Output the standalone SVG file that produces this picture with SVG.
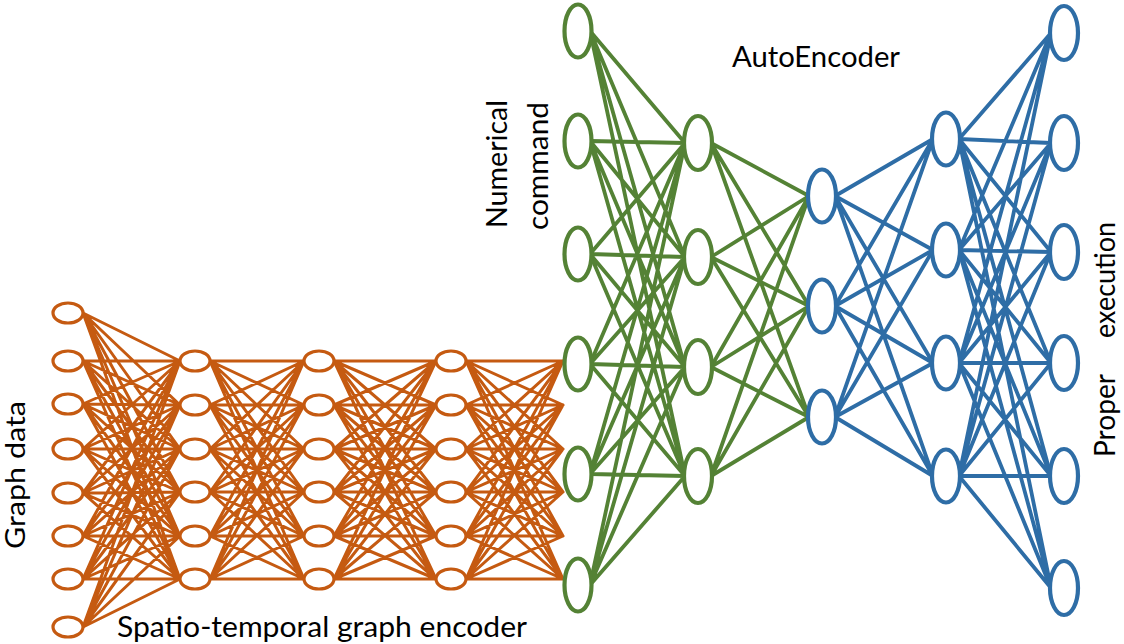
<svg xmlns="http://www.w3.org/2000/svg" width="1124" height="644" viewBox="0 0 1124 644">
<style>
.eo{fill:none;stroke:#C55A11;stroke-width:3;stroke-linecap:round}
.eg{fill:none;stroke:#548235;stroke-width:3.8;stroke-linecap:round}
.eb{fill:none;stroke:#2E6DA6;stroke-width:3.8;stroke-linecap:round}
.no{fill:#fff;stroke:#C55A11;stroke-width:3.2}
.ng{fill:#fff;stroke:#548235;stroke-width:4.2}
.nb{fill:#fff;stroke:#2E6DA6;stroke-width:4.2}
.t{font-family:Lato,"Open Sans","Liberation Sans",sans-serif;font-size:28px;fill:#000}
</style>
<rect width="1124" height="644" fill="#fff"/>
<g id="connectors">
<path class="eo" d="M83 313L180 361M83 313L180 405M83 313L180 449M83 313L180 492M83 313L180 536M83 313L180 579
M83 361L180 361M83 361L180 405M83 361L180 449M83 361L180 492M83 361L180 536M83 361L180 579
M83 404L180 361M83 404L180 405M83 404L180 449M83 404L180 492M83 404L180 536M83 404L180 579
M83 449L180 361M83 449L180 405M83 449L180 449M83 449L180 492M83 449L180 536M83 449L180 579
M83 493L180 361M83 493L180 405M83 493L180 449M83 493L180 492M83 493L180 536M83 493L180 579
M83 536L180 361M83 536L180 405M83 536L180 449M83 536L180 492M83 536L180 536M83 536L180 579
M83 579L180 361M83 579L180 405M83 579L180 449M83 579L180 492M83 579L180 536M83 579L180 579
M83 627L180 361M83 627L180 405M83 627L180 449M83 627L180 492M83 627L180 536M83 627L180 579"/>
<path class="eo" d="M210 361L304 361M210 361L304 405M210 361L304 449M210 361L304 492M210 361L304 536M210 361L304 579
M210 405L304 361M210 405L304 405M210 405L304 449M210 405L304 492M210 405L304 536M210 405L304 579
M210 449L304 361M210 449L304 405M210 449L304 449M210 449L304 492M210 449L304 536M210 449L304 579
M210 492L304 361M210 492L304 405M210 492L304 449M210 492L304 492M210 492L304 536M210 492L304 579
M210 536L304 361M210 536L304 405M210 536L304 449M210 536L304 492M210 536L304 536M210 536L304 579
M210 579L304 361M210 579L304 405M210 579L304 449M210 579L304 492M210 579L304 536M210 579L304 579"/>
<path class="eo" d="M334 361L436 361M334 361L436 405M334 361L436 449M334 361L436 492M334 361L436 536M334 361L436 579
M334 405L436 361M334 405L436 405M334 405L436 449M334 405L436 492M334 405L436 536M334 405L436 579
M334 449L436 361M334 449L436 405M334 449L436 449M334 449L436 492M334 449L436 536M334 449L436 579
M334 492L436 361M334 492L436 405M334 492L436 449M334 492L436 492M334 492L436 536M334 492L436 579
M334 536L436 361M334 536L436 405M334 536L436 449M334 536L436 492M334 536L436 536M334 536L436 579
M334 579L436 361M334 579L436 405M334 579L436 449M334 579L436 492M334 579L436 536M334 579L436 579"/>
<path class="eo" d="M466 361L563 361M466 361L563 405M466 361L563 449M466 361L563 492M466 361L563 536M466 361L563 579
M466 405L563 361M466 405L563 405M466 405L563 449M466 405L563 492M466 405L563 536M466 405L563 579
M466 449L563 361M466 449L563 405M466 449L563 449M466 449L563 492M466 449L563 536M466 449L563 579
M466 492L563 361M466 492L563 405M466 492L563 449M466 492L563 492M466 492L563 536M466 492L563 579
M466 536L563 361M466 536L563 405M466 536L563 449M466 536L563 492M466 536L563 536M466 536L563 579
M466 579L563 361M466 579L563 405M466 579L563 449M466 579L563 492M466 579L563 536M466 579L563 579"/>
<path class="eg" d="M590 31L685 143M590 31L685 257M590 31L685 367M590 31L685 476
M590 141L685 143M590 141L685 257M590 141L685 367M590 141L685 476
M590 254L685 143M590 254L685 257M590 254L685 367M590 254L685 476
M590 364L685 143M590 364L685 257M590 364L685 367M590 364L685 476
M590 474L685 143M590 474L685 257M590 474L685 367M590 474L685 476
M590 585L685 143M590 585L685 257M590 585L685 367M590 585L685 476"/>
<path class="eg" d="M711 143L809 196M711 143L809 306M711 143L809 417
M711 257L809 196M711 257L809 306M711 257L809 417
M711 367L809 196M711 367L809 306M711 367L809 417
M711 476L809 196M711 476L809 306M711 476L809 417"/>
<path class="eb" d="M835 196L933 139M835 196L933 250M835 196L933 363M835 196L933 476
M835 306L933 139M835 306L933 250M835 306L933 363M835 306L933 476
M835 417L933 139M835 417L933 250M835 417L933 363M835 417L933 476"/>
<path class="eb" d="M959 139L1051 33M959 139L1051 143M959 139L1051 252M959 139L1051 363M959 139L1051 476M959 139L1051 588
M959 250L1051 33M959 250L1051 143M959 250L1051 252M959 250L1051 363M959 250L1051 476M959 250L1051 588
M959 363L1051 33M959 363L1051 143M959 363L1051 252M959 363L1051 363M959 363L1051 476M959 363L1051 588
M959 476L1051 33M959 476L1051 143M959 476L1051 252M959 476L1051 363M959 476L1051 476M959 476L1051 588"/>
</g>
<g id="graph-input-layer">
<ellipse class="no" cx="68" cy="313" rx="15" ry="10"/>
<ellipse class="no" cx="68" cy="361" rx="15" ry="10"/>
<ellipse class="no" cx="68" cy="404" rx="15" ry="10"/>
<ellipse class="no" cx="68" cy="449" rx="15" ry="10"/>
<ellipse class="no" cx="68" cy="493" rx="15" ry="10"/>
<ellipse class="no" cx="68" cy="536" rx="15" ry="10"/>
<ellipse class="no" cx="68" cy="579" rx="15" ry="10"/>
<ellipse class="no" cx="68" cy="627" rx="15" ry="10"/>
</g>
<g id="encoder-layer-1">
<ellipse class="no" cx="195" cy="361" rx="15" ry="10"/>
<ellipse class="no" cx="195" cy="405" rx="15" ry="10"/>
<ellipse class="no" cx="195" cy="449" rx="15" ry="10"/>
<ellipse class="no" cx="195" cy="492" rx="15" ry="10"/>
<ellipse class="no" cx="195" cy="536" rx="15" ry="10"/>
<ellipse class="no" cx="195" cy="579" rx="15" ry="10"/>
</g>
<g id="encoder-layer-2">
<ellipse class="no" cx="319" cy="361" rx="15" ry="10"/>
<ellipse class="no" cx="319" cy="405" rx="15" ry="10"/>
<ellipse class="no" cx="319" cy="449" rx="15" ry="10"/>
<ellipse class="no" cx="319" cy="492" rx="15" ry="10"/>
<ellipse class="no" cx="319" cy="536" rx="15" ry="10"/>
<ellipse class="no" cx="319" cy="579" rx="15" ry="10"/>
</g>
<g id="encoder-layer-3">
<ellipse class="no" cx="451" cy="361" rx="15" ry="10"/>
<ellipse class="no" cx="451" cy="405" rx="15" ry="10"/>
<ellipse class="no" cx="451" cy="449" rx="15" ry="10"/>
<ellipse class="no" cx="451" cy="492" rx="15" ry="10"/>
<ellipse class="no" cx="451" cy="536" rx="15" ry="10"/>
<ellipse class="no" cx="451" cy="579" rx="15" ry="10"/>
</g>
<g id="ae-input-layer">
<ellipse class="ng" cx="578" cy="31" rx="13.5" ry="26.5"/>
<ellipse class="ng" cx="578" cy="141" rx="13.5" ry="26.5"/>
<ellipse class="ng" cx="578" cy="254" rx="13.5" ry="26.5"/>
<ellipse class="ng" cx="578" cy="364" rx="13.5" ry="26.5"/>
<ellipse class="ng" cx="578" cy="474" rx="13.5" ry="26.5"/>
<ellipse class="ng" cx="578" cy="585" rx="13.5" ry="26.5"/>
</g>
<g id="ae-hidden-layer-1">
<ellipse class="ng" cx="698" cy="143" rx="14" ry="27"/>
<ellipse class="ng" cx="698" cy="257" rx="14" ry="27"/>
<ellipse class="ng" cx="698" cy="367" rx="14" ry="27"/>
<ellipse class="ng" cx="698" cy="476" rx="14" ry="27"/>
</g>
<g id="ae-bottleneck">
<ellipse class="nb" cx="822" cy="196" rx="14" ry="26.5"/>
<ellipse class="nb" cx="822" cy="306" rx="14" ry="26.5"/>
<ellipse class="nb" cx="822" cy="417" rx="14" ry="26.5"/>
</g>
<g id="ae-hidden-layer-2">
<ellipse class="nb" cx="946" cy="139" rx="14" ry="26.5"/>
<ellipse class="nb" cx="946" cy="250" rx="14" ry="26.5"/>
<ellipse class="nb" cx="946" cy="363" rx="14" ry="26.5"/>
<ellipse class="nb" cx="946" cy="476" rx="14" ry="26.5"/>
</g>
<g id="ae-output-layer">
<ellipse class="nb" cx="1064" cy="33" rx="14" ry="27"/>
<ellipse class="nb" cx="1064" cy="143" rx="14" ry="27"/>
<ellipse class="nb" cx="1064" cy="252" rx="14" ry="27"/>
<ellipse class="nb" cx="1064" cy="363" rx="14" ry="27"/>
<ellipse class="nb" cx="1064" cy="476" rx="14" ry="27"/>
<ellipse class="nb" cx="1064" cy="588" rx="14" ry="27"/>
</g>
<g id="labels">
<text class="t" transform="translate(25,475) rotate(-90)" text-anchor="middle" font-size="27" textLength="148" lengthAdjust="spacingAndGlyphs" style="font-size:27px">Graph data</text>
<text class="t" x="117" y="637" textLength="410" lengthAdjust="spacingAndGlyphs">Spatio-temporal graph encoder</text>
<text class="t" transform="translate(507,164) rotate(-90)" text-anchor="middle" textLength="128" lengthAdjust="spacingAndGlyphs">Numerical</text>
<text class="t" transform="translate(548,166) rotate(-90)" text-anchor="middle" textLength="128" lengthAdjust="spacingAndGlyphs">command</text>
<text class="t" x="732" y="67" textLength="168" lengthAdjust="spacingAndGlyphs">AutoEncoder</text>
<text class="t" transform="translate(1115,457) rotate(-90)"><tspan x="0" textLength="83" lengthAdjust="spacingAndGlyphs">Proper</tspan><tspan x="119" textLength="116" lengthAdjust="spacingAndGlyphs">execution</tspan></text>
</g>
</svg>
